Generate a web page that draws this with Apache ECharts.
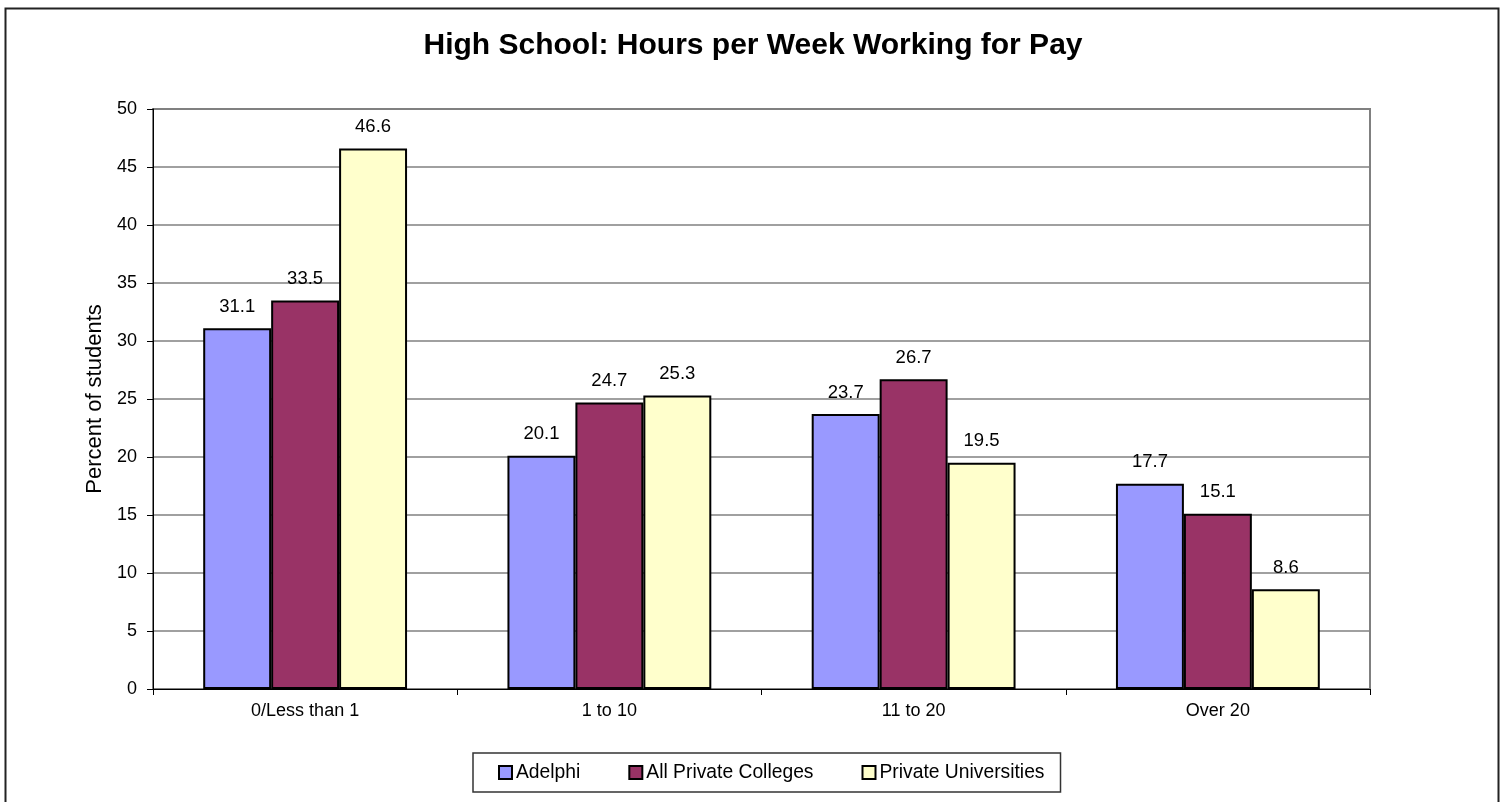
<!DOCTYPE html>
<html>
<head>
<meta charset="utf-8">
<script src="https://cdn.jsdelivr.net/npm/echarts@6/dist/echarts.min.js"></script>
<style>
html,body{margin:0;padding:0;background:#fff;}
#main{width:1506px;height:802px;}
</style>
</head>
<body>
<div id="main"></div>
<script>
var categories = ["0/Less than 1", "1 to 10", "11 to 20", "Over 20"];
var adelphi = [31.1, 20.1, 23.7, 17.7];
var privateColleges = [33.5, 24.7, 26.7, 15.1];
var privateUniversities = [46.6, 25.3, 19.5, 8.6];
var seriesNames = ["Adelphi", "All Private Colleges", "Private Universities"];
var colors = ["#9999FF", "#993366", "#FFFFCC"];

var chart = echarts.init(document.getElementById("main"));

function makeSeries(name, data, color){
    return {
        name: name,
        type: "bar",
        data: data,
        barGap: "0%",
        barCategoryGap: "33%",
        itemStyle: {color: color, borderColor: "#000", borderWidth: 2},
        label: {
            show: true, position: "top", distance: 12,
            color: "#000", fontSize: 18.5
        }
    };
}

var option = {
    animation: false,
    textStyle: {fontFamily: "Liberation Sans, Arial"},
    title: {
        text: "High School: Hours per Week Working for Pay",
        left: "center", top: 26,
        textStyle: {fontSize: 30, fontWeight: "bold", color: "#000", fontFamily: "Liberation Sans, Arial"}
    },
    graphic: [{
        type: "rect", silent: true,
        shape: {x: 5.5, y: 8.5, width: 1493, height: 800},
        style: {fill: null, stroke: "#222", lineWidth: 2}
    }],
    legend: {
        data: seriesNames,
        left: 473, top: 753,
        padding: [10, 16, 10, 25],
        borderColor: "#333", borderWidth: 1.5,
        icon: "rect", itemWidth: 13, itemHeight: 13, itemGap: 48,
        itemStyle: {borderColor: "#000", borderWidth: 2},
        textStyle: {fontSize: 19.3, color: "#000", padding: [0, 0, 0, -1], fontFamily: "Liberation Sans, Arial"}
    },
    grid: {
        left: 153, right: 136, top: 109, bottom: 113,
        show: true, borderColor: "#808080", borderWidth: 2
    },
    xAxis: {
        type: "category", data: categories,
        axisLine: {lineStyle: {color: "#000", width: 1}},
        axisTick: {show: true, length: 6, lineStyle: {color: "#000"}},
        axisLabel: {color: "#000", fontSize: 18, margin: 13}
    },
    yAxis: {
        type: "value", min: 0, max: 50, interval: 5,
        name: "Percent of students", nameLocation: "middle", nameGap: 47,
        nameTextStyle: {fontSize: 22, color: "#000"},
        axisLine: {show: true, lineStyle: {color: "#000", width: 1}},
        axisTick: {show: true, length: 6, lineStyle: {color: "#000"}},
        axisLabel: {color: "#000", fontSize: 18, margin: 16},
        splitLine: {lineStyle: {color: "#808080", width: 1.5}}
    },
    series: [
        makeSeries(seriesNames[0], adelphi, colors[0]),
        makeSeries(seriesNames[1], privateColleges, colors[1]),
        makeSeries(seriesNames[2], privateUniversities, colors[2])
    ]
};
chart.setOption(option);
</script>
</body>
</html>
